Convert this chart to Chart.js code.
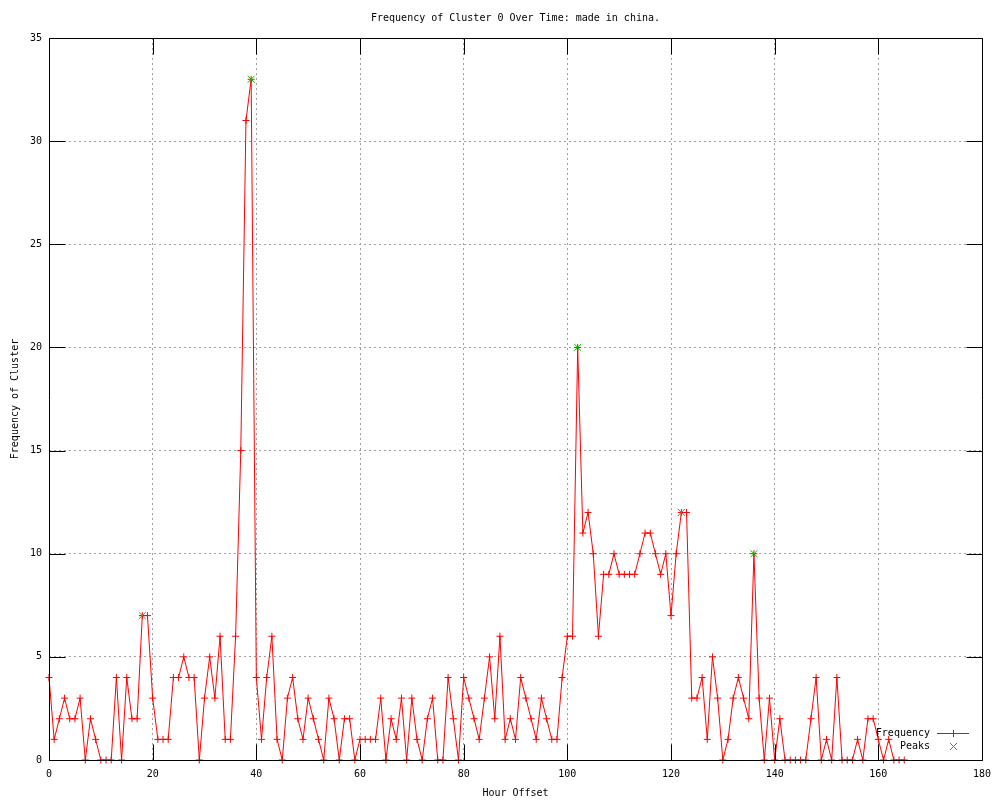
<!DOCTYPE html>
<html><head><meta charset="utf-8">
<script src="https://cdn.jsdelivr.net/npm/chart.js@4.4.1/dist/chart.umd.min.js"></script>
<style>html,body{margin:0;padding:0;background:#fff}#wrap{width:1000px;height:800px}</style>
</head><body><div id="wrap"><canvas id="c" width="1000" height="800"></canvas></div>
<script>
const chartTitle = 'Frequency of Cluster 0 Over Time: made in china.';
const xAxisTitle = 'Hour Offset';
const yAxisTitle = 'Frequency of Cluster';
const seriesNames = ['Frequency', 'Peaks'];
const hours = [
  0,1,2,3,4,5,6,7,8,9,10,11,12,13,14,15,16,17,18,19,
  20,21,22,23,24,25,26,27,28,29,30,31,32,33,34,35,36,37,38,39,
  40,41,42,43,44,45,46,47,48,49,50,51,52,53,54,55,56,57,58,59,
  60,61,62,63,64,65,66,67,68,69,70,71,72,73,74,75,76,77,78,79,
  80,81,82,83,84,85,86,87,88,89,90,91,92,93,94,95,96,97,98,99,
  100,101,102,103,104,105,106,107,108,109,110,111,112,113,114,115,116,117,118,119,
  120,121,122,123,124,125,126,127,128,129,130,131,132,133,134,135,136,137,138,139,
  140,141,142,143,144,145,146,147,148,149,150,151,152,153,154,155,156,157,158,159,
  160,161,162,163,164,165
];
const frequency = [
  4,1,2,3,2,2,3,0,2,1, 0,0,0,4,0,4,2,2,7,7,
  3,1,1,1,4,4,5,4,4,0, 3,5,3,6,1,1,6,15,31,33,
  4,1,4,6,1,0,3,4,2,1, 3,2,1,0,3,2,0,2,2,0,
  1,1,1,1,3,0,2,1,3,0, 3,1,0,2,3,0,0,4,2,0,
  4,3,2,1,3,5,2,6,1,2, 1,4,3,2,1,3,2,1,1,4,
  6,6,20,11,12,10,6,9,9,10, 9,9,9,9,10,11,11,10,9,10,
  7,10,12,12,3,3,4,1,5,3, 0,1,3,4,3,2,10,3,0,3,
  0,2,0,0,0,0,0,2,4,0, 1,0,4,0,0,0,1,0,2,2,
  1,0,1,0,0,0
];
const peakHours = [18, 39, 102, 122, 136];
const peakValues = [7, 33, 20, 12, 10];
const xTicks = [0,20,40,60,80,100,120,140,160,180];
const yTicks = [0,5,10,15,20,25,30,35];
const FREQ_COLOR = '#ff0000';
const PEAK_COLOR = '#00c000';
const FONT = {family: '"DejaVu Sans Mono", "Liberation Mono", monospace', size: 10, lineHeight: 1.2};
const FONTSTR = '10px "DejaVu Sans Mono", "Liberation Mono", monospace';
const legendItems = [
  {text: seriesNames[0], color: FREQ_COLOR, line: true, style: 'cross', r: 3.5},
  {text: seriesNames[1], color: PEAK_COLOR, line: false, style: 'crossRot', r: 5}
];
function strokeMarker(ctx, style, r, x, y, color) {
  ctx.save();
  ctx.strokeStyle = color; ctx.lineWidth = 1;
  ctx.beginPath();
  if (style === 'cross') {
    ctx.moveTo(x - r, y); ctx.lineTo(x + r, y);
    ctx.moveTo(x, y - r); ctx.lineTo(x, y + r);
  } else {
    const d = r * Math.SQRT1_2;
    ctx.moveTo(x - d, y - d); ctx.lineTo(x + d, y + d);
    ctx.moveTo(x - d, y + d); ctx.lineTo(x + d, y - d);
  }
  ctx.stroke();
  ctx.restore();
}
const framePlugin = {
  id: 'frame',
  afterDatasetsDraw(chart) {
    const {ctx, chartArea: a, scales: {x, y}} = chart;
    const L = Math.round(a.left) + 0.5, R = Math.round(a.right) + 0.5;
    const T = Math.round(a.top) + 0.5, B = Math.round(a.bottom) + 0.5;
    const TL = 16;
    ctx.save();
    ctx.strokeStyle = '#000000'; ctx.lineWidth = 1; ctx.setLineDash([]);
    ctx.beginPath();
    ctx.rect(L, T, R - L, B - T);
    x.ticks.forEach(t => {
      const px = Math.round(x.getPixelForValue(t.value)) + 0.5;
      ctx.moveTo(px, B); ctx.lineTo(px, B - TL);
      ctx.moveTo(px, T); ctx.lineTo(px, T + TL);
    });
    y.ticks.forEach(t => {
      const py = Math.round(y.getPixelForValue(t.value)) + 0.5;
      ctx.moveTo(L, py); ctx.lineTo(L + TL, py);
      ctx.moveTo(R, py); ctx.lineTo(R - TL, py);
    });
    ctx.stroke();
    ctx.restore();
  },
  afterDraw(chart) {
    const {ctx, chartArea: a} = chart;
    ctx.save();
    ctx.font = FONTSTR;
    ctx.fillStyle = '#000000';
    ctx.textBaseline = 'middle';
    ctx.textAlign = 'center';
    ctx.fillText(chartTitle, (a.left + a.right) / 2, 18);
    ctx.textAlign = 'right';
    legendItems.forEach((it, i) => {
      const yy = Math.round(a.bottom - 27 + i * 13) + 0.5;
      ctx.fillStyle = '#000000';
      ctx.fillText(it.text, a.right - 52, yy);
      if (it.line) {
        ctx.save();
        ctx.strokeStyle = it.color; ctx.lineWidth = 1; ctx.setLineDash([]);
        ctx.beginPath();
        ctx.moveTo(a.right - 45, yy);
        ctx.lineTo(a.right - 13, yy);
        ctx.stroke();
        ctx.restore();
      }
      strokeMarker(ctx, it.style, it.r, Math.round(a.right - 29) + 0.5, yy, it.color);
    });
    ctx.restore();
  }
};
new Chart(document.getElementById('c'), {
  type: 'scatter',
  data: {
    datasets: [
      {label: seriesNames[0], data: hours.map((h, i) => ({x: h, y: frequency[i]})), showLine: true,
        borderColor: FREQ_COLOR, backgroundColor: FREQ_COLOR, borderWidth: 1, tension: 0,
        pointStyle: 'cross', pointRadius: 3.5, pointHoverRadius: 3.5, pointBorderWidth: 1,
        pointBorderColor: FREQ_COLOR, clip: false, order: 1},
      {label: seriesNames[1], data: peakHours.map((h, i) => ({x: h, y: peakValues[i]})), showLine: false,
        borderColor: PEAK_COLOR, backgroundColor: PEAK_COLOR, pointStyle: 'crossRot', pointRadius: 5,
        pointHoverRadius: 5, pointBorderWidth: 1, pointBorderColor: PEAK_COLOR, clip: false, order: 0}
    ]
  },
  options: {
    responsive: false, animation: false, events: [], devicePixelRatio: 1,
    layout: {padding: {top: 38, right: 18, left: 0, bottom: 0}},
    plugins: {legend: {display: false}, title: {display: false}, tooltip: {enabled: false}},
    scales: {
      x: {type: 'linear', position: 'bottom', min: 0, max: 180,
        afterBuildTicks: s => { s.ticks = xTicks.map(v => ({value: v})); },
        afterFit: s => { s.height = 40; },
        ticks: {font: FONT, color: '#000', padding: 8, maxRotation: 0, autoSkip: false},
        grid: {color: '#a0a0a0', lineWidth: 1, drawTicks: false},
        border: {display: false, dash: [2, 3]},
        title: {display: true, text: xAxisTitle, font: FONT, color: '#000', padding: {top: 0, bottom: 1}}},
      y: {type: 'linear', position: 'left', min: 0, max: 35,
        afterBuildTicks: s => { s.ticks = yTicks.map(v => ({value: v})); },
        afterFit: s => { s.width = 49; },
        ticks: {font: FONT, color: '#000', padding: 7, autoSkip: false},
        grid: {color: '#a0a0a0', lineWidth: 1, drawTicks: false},
        border: {display: false, dash: [2, 3]},
        title: {display: true, text: yAxisTitle, font: FONT, color: '#000', padding: {top: 9, bottom: 0}}}
    }
  },
  plugins: [framePlugin]
});
</script>
</body></html>
